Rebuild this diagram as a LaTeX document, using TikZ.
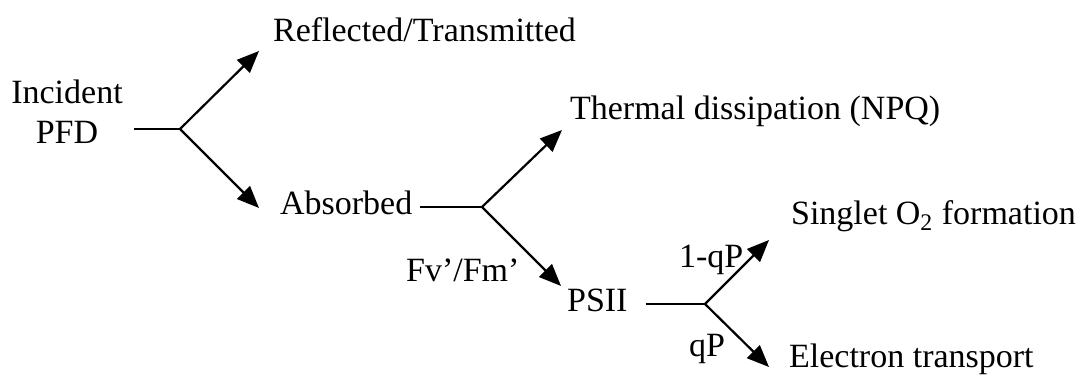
\documentclass[tikz,border=0pt]{standalone}
\usepackage{fontspec}
\setmainfont{Liberation Serif}
\usetikzlibrary{arrows.meta,calc}

\begin{document}
\begin{tikzpicture}[x=0.5bp,y=-0.5bp,>={Triangle[length=11bp,width=9bp]},line width=1.1bp,
  font=\fontsize{17bp}{20bp}\selectfont,
  lbl/.style={anchor=base west,inner sep=0pt}]
\useasboundingbox (0,0) rectangle (1077,380);
% labels
\node[align=center,inner sep=0pt] (inc) at (67,112) {Incident\\PFD};
\node[lbl] (refl) at (272,42) {Reflected/Transmitted};
\node[lbl] (absd) at (279,215) {Absorbed};
\node[lbl] (therm) at (569,120) {Thermal dissipation (NPQ)};
\node[lbl] (psii) at (566,312) {PSII};
\node[lbl] (singlet) at (790,225) {Singlet O\textsubscript{2} formation};
\node[lbl] (etrans) at (788,368) {Electron transport};
\node[lbl] (fvfm) at (405,282) {Fv'/Fm'};
\node[lbl] (oneqp) at (678,268) {1-qP};
\node[lbl] (qp) at (688,357) {qP};
% forks
\coordinate (f1) at (180,129);
\coordinate (f2) at (482,207);
\coordinate (f3) at (705,304);
\draw ($(inc.east |- f1)+(10,0)$) -- (f1);
\draw[->] (f1) -- ($(refl.base west)+(-13,9)$);
\draw[->] (f1) -- ($(absd.base west)+(-20,-7)$);
\draw ($(absd.east |- f2)+(7,0)$) -- (f2);
\draw[->] (f2) -- ($(therm.base west)+(-7,10)$);
\draw[->] (f2) -- ($(psii.base west)+(-5,-26)$);
\draw ($(psii.east |- f3)+(17,0)$) -- (f3);
\draw[->] (f3) -- ($(singlet.base west)+(-21,15)$);
\draw[->] (f3) -- ($(etrans.base west)+(-19,-1)$);
\end{tikzpicture}
\end{document}
